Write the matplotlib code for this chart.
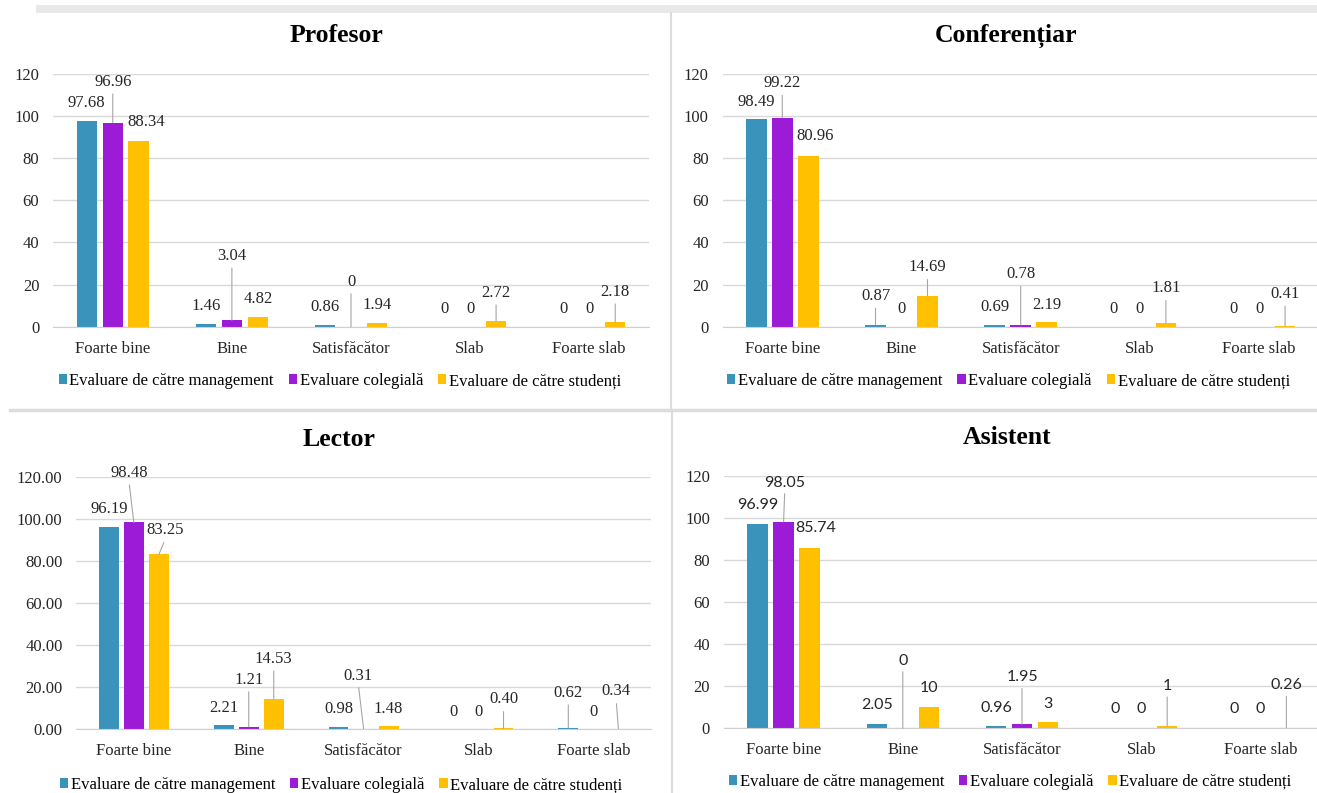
import matplotlib
matplotlib.use('Agg')
import matplotlib.pyplot as plt
from matplotlib.patches import Patch, Rectangle
from matplotlib.lines import Line2D
from matplotlib.ticker import FormatStrFormatter

plt.rcParams['font.family'] = ['Liberation Serif', 'DejaVu Serif']

categories = ['Foarte bine', 'Bine', 'Satisfăcător', 'Slab', 'Foarte slab']
series_names = ['Evaluare de către management', 'Evaluare colegială', 'Evaluare de către studenți']
colors = ['#3A93BB', '#9B1BD7', '#FFC000']

profesor_mgmt = [97.68, 1.46, 0.86, 0, 0]
profesor_coleg = [96.96, 3.04, 0, 0, 0]
profesor_stud = [88.34, 4.82, 1.94, 2.72, 2.18]

conf_mgmt = [98.49, 0.87, 0.69, 0, 0]
conf_coleg = [99.22, 0, 0.78, 0, 0]
conf_stud = [80.96, 14.69, 2.19, 1.81, 0.41]

lector_mgmt = [96.19, 2.21, 0.98, 0, 0.62]
lector_coleg = [98.48, 1.21, 0.31, 0, 0]
lector_stud = [83.25, 14.53, 1.48, 0.40, 0.34]

asist_mgmt = [96.99, 2.05, 0.96, 0, 0]
asist_coleg = [98.05, 0, 1.95, 0, 0]
asist_stud = [85.74, 10, 3, 1, 0.26]

# label placement (y of label centre, x shift in category units, leader line)
profesor_lab_y = [[106.1, 9.8, 9.2, 8.2, 8.2],
                  [116.3, 33.6, 21.4, 8.2, 8.2],
                  [97.0, 13.2, 10.3, 16.1, 16.6]]
profesor_lab_dx = [[0] * 5, [0] * 5, [0.063, 0, 0, 0, 0]]
profesor_lead = [[0, 0, 0, 0, 0], [1, 1, 1, 0, 0], [0, 0, 0, 1, 1]]

conf_lab_y = [[106.8, 14.6, 9.2, 8.2, 8.2],
              [115.6, 8.2, 25.0, 8.2, 8.2],
              [90.5, 28.2, 10.3, 18.2, 15.5]]
conf_lab_dx = [[0] * 5, [0] * 5, [0.055, 0, 0, 0, 0]]
conf_lead = [[0, 1, 0, 0, 0], [1, 0, 1, 0, 0], [0, 1, 0, 1, 1]]

lector_lab_y = [[104.7, 10.3, 9.8, 8.2, 17.4],
                [122.1, 23.6, 25.6, 8.2, 8.2],
                [94.7, 33.5, 9.8, 14.2, 18.0]]
lector_lab_dx = [[0] * 5, [-0.043, 0, -0.047, 0, 0], [0.058, 0, 0, 0, -0.02]]
lector_lead = [[0, 0, 0, 0, 1], [1, 1, 1, 0, 0], [1, 1, 0, 1, 1]]

asist_lab_y = [[106.1, 11.1, 9.5, 9.0, 9.0],
               [116.7, 32.1, 24.2, 9.0, 9.0],
               [95.0, 19.0, 11.5, 20.2, 20.5]]
asist_lab_dx = [[0] * 5, [0.01, 0, 0, 0, 0], [0.055, 0, 0, 0, 0]]
asist_lead = [[0, 0, 0, 0, 0], [1, 1, 1, 0, 0], [0, 0, 0, 1, 1]]

W, H = 1317, 793
fig = plt.figure(figsize=(W / 100, H / 100), dpi=100)
fig.patch.set_facecolor('white')


def fx(x):
    return x / W


def fy(y):
    return 1 - y / H


# panel separators
fig.patches.append(Rectangle((fx(36), fy(13)), fx(W - 36), 8 / H, transform=fig.transFigure,
                             facecolor='#e9e9e9', edgecolor='none'))
fig.lines.append(Line2D([fx(670.5), fx(670.5)], [fy(13), fy(408)], transform=fig.transFigure,
                        color='#dcdcdc', lw=1.5))
fig.lines.append(Line2D([fx(10), fx(W)], [fy(409.5), fy(409.5)], transform=fig.transFigure,
                        color='#dcdcdc', lw=2.5))
fig.lines.append(Line2D([fx(671.7), fx(671.7)], [fy(411), fy(H)], transform=fig.transFigure,
                        color='#dcdcdc', lw=1.5))


def panel(rect, title, title_xy, legend_xy, series, lab_y, lab_dx, lead, lector=False,
          label_font=None, label_size=12):
    left, top, right, bottom = rect
    ax = fig.add_axes([fx(left), fy(bottom), fx(right - left), (bottom - top) / H])
    ax.set_facecolor('none')
    ax.set_xlim(-0.5, 4.5)
    ax.set_ylim(0, 120)
    ax.set_yticks(range(0, 121, 20))
    if lector:
        ax.yaxis.set_major_formatter(FormatStrFormatter('%.2f'))
    ax.grid(axis='y', color='#d9d9d9', lw=1)
    ax.set_axisbelow(True)
    for s in ['left', 'right', 'top']:
        ax.spines[s].set_visible(False)
    ax.spines['bottom'].set_color('#d0d0d0')
    ax.tick_params(length=0, labelsize=12, colors='#262626')
    ax.tick_params(axis='y', pad=10)
    ax.tick_params(axis='x', pad=10)
    ax.set_xticks(range(len(categories)))
    ax.set_xticklabels(categories)

    offs = [-0.218, 0, 0.218]
    for k, vals in enumerate(series):
        xs = [i + offs[k] for i in range(len(vals))]
        ax.bar(xs, vals, width=0.172, color=colors[k], linewidth=0)
        for i, v in enumerate(vals):
            if v == 0:
                txt = '0'
            elif lector:
                txt = '%.2f' % v
            else:
                txt = '%g' % v
            kw = dict(ha='center', va='center', fontsize=label_size, color='#262626',
                      annotation_clip=False)
            if label_font:
                kw['family'] = label_font
            if lead[k][i]:
                kw['arrowprops'] = dict(arrowstyle='-', color='#a6a6a6', lw=0.8,
                                        shrinkA=1, shrinkB=0, relpos=(0.5, 0))
            ax.annotate(txt, xy=(xs[i], v), xytext=(xs[i] + lab_dx[k][i], lab_y[k][i]), **kw)

    fig.text(fx(title_xy[0]), fy(title_xy[1]), title, ha='center', va='center',
             fontsize=18.5, fontweight='bold', color='black')
    handles = [Patch(facecolor=c, edgecolor='none') for c in colors]
    ax.legend(handles, series_names, loc='center', bbox_to_anchor=(fx(legend_xy[0]), fy(legend_xy[1])),
              bbox_transform=fig.transFigure, ncol=3, frameon=False, fontsize=12,
              handlelength=0.5, handleheight=0.5, handletextpad=0.15, columnspacing=0.9,
              borderaxespad=0, borderpad=0)
    return ax


panel((53.2, 74, 648.8, 326.7), 'Profesor', (336.7, 36), (339.8, 381),
      [profesor_mgmt, profesor_coleg, profesor_stud], profesor_lab_y, profesor_lab_dx, profesor_lead)
panel((722.7, 74, 1318.7, 326.7), 'Conferențiar', (1005.6, 36), (1008.4, 381),
      [conf_mgmt, conf_coleg, conf_stud], conf_lab_y, conf_lab_dx, conf_lead)
panel((76.4, 477.3, 650.8, 729.3), 'Lector', (338.8, 439.3), (341, 785),
      [lector_mgmt, lector_coleg, lector_stud], lector_lab_y, lector_lab_dx, lector_lead, lector=True)
panel((724, 475.7, 1320, 728.3), 'Asistent', (1007, 437.3), (1010, 781.7),
      [asist_mgmt, asist_coleg, asist_stud], asist_lab_y, asist_lab_dx, asist_lead,
      label_font=['Lato', 'DejaVu Sans'], label_size=11.5)

fig.savefig('out.png', dpi=100)
